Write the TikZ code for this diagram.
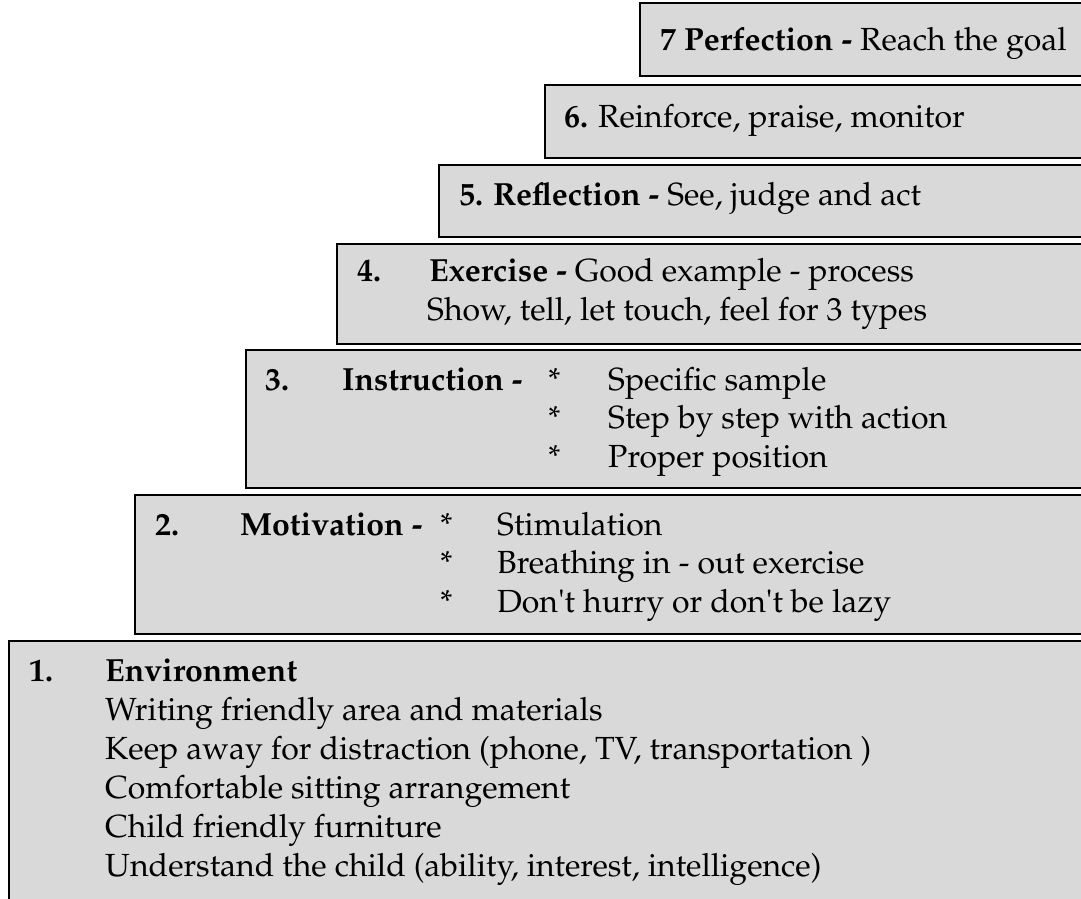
\documentclass[tikz,border=0pt]{standalone}
\usepackage[T1]{fontenc}
\usepackage{mathpazo}
\usepackage{textcomp}
\usepackage{xcolor}
\usepackage{tikz}
\definecolor{StepGray}{HTML}{D9D9D9}
\tikzset{
  stepbox/.style={draw=black, line width=1.6pt, fill=StepGray, anchor=north west,
                  minimum width=1200pt, inner sep=0pt},
  steptext/.style={anchor=base west, inner sep=0pt, font=\fontsize{32}{38}\selectfont},
}

\begin{document}
\begin{tikzpicture}[x=1pt,y=-1pt]
      \useasboundingbox (0,0) rectangle (1081,899);
      \clip (0,0) rectangle (1081,899);
      % the staircase, top step first
      \node[stepbox, minimum height=73pt]  (perfection)  at (639,2)   {};
      \node[stepbox, minimum height=73pt]  (reinforce)   at (544,84)  {};
      \node[stepbox, minimum height=72pt]  (reflection)  at (438,164) {};
      \node[stepbox, minimum height=100pt] (exercise)    at (336,243) {};
      \node[stepbox, minimum height=138pt] (instruction) at (245,349) {};
      \node[stepbox, minimum height=139pt] (motivation)  at (134,494) {};
      \node[stepbox, minimum height=280pt] (environment) at (8,640)   {};

      % step 7 to 5
      \node[steptext] (perfection-txt) at (660,51)  {\textbf{7 Perfection -} Reach the goal};
      \node[steptext] (reinforce-txt)  at (564,127) {\textbf{6.} Reinforce, praise, monitor};
      \node[steptext] (reflection-txt) at (459,205) {\textbf{5. Reflection -} See, judge and act};

      % step 4
      \node[steptext] (exercise-num)  at (357,281) {\textbf{4.}};
      \node[steptext] (exercise-txt)  at (429,281) {\textbf{Exercise -} Good example - process};
      \node[steptext] (exercise-txt2) at (427,320) {Show, tell, let touch, feel for 3 types};

      % step 3
      \node[steptext] (instruction-num)  at (265,390) {\textbf{3.}};
      \node[steptext] (instruction-head) at (342,390) {\textbf{Instruction -}};
      \foreach \txt [count=\k] in {Specific sample, Step by step with action, Proper position} {
        \node[steptext] (instruction-star-\k) at (548,{390+38.5*(\k-1)}) {*};
        \node[steptext] (instruction-item-\k) at (608,{390+38.5*(\k-1)}) {\txt};
      }

      % step 2
      \node[steptext] (motivation-num)  at (155,535) {\textbf{2.}};
      \node[steptext] (motivation-head) at (240,535) {\textbf{Motivation -}};
      \foreach \txt [count=\k] in {Stimulation, Breathing in - out exercise,
          Don\textquotesingle t hurry or don\textquotesingle t be lazy} {
        \node[steptext] (motivation-star-\k) at (440,{535+38.5*(\k-1)}) {*};
        \node[steptext] (motivation-item-\k) at (497,{535+38.5*(\k-1)}) {\txt};
      }

      % step 1
      \node[steptext] (environment-num)  at (29,681)  {\textbf{1.}};
      \node[steptext] (environment-head) at (105,681) {\textbf{Environment}};
      \foreach \txt [count=\k] in {Writing friendly area and materials,
          {Keep away for distraction (phone, TV, transportation )},
          Comfortable sitting arrangement, Child friendly furniture,
          {Understand the child (ability, interest, intelligence)}} {
        \node[steptext] (environment-item-\k) at (105,{681+39*\k}) {\txt};
      }
    \end{tikzpicture}
\end{document}
